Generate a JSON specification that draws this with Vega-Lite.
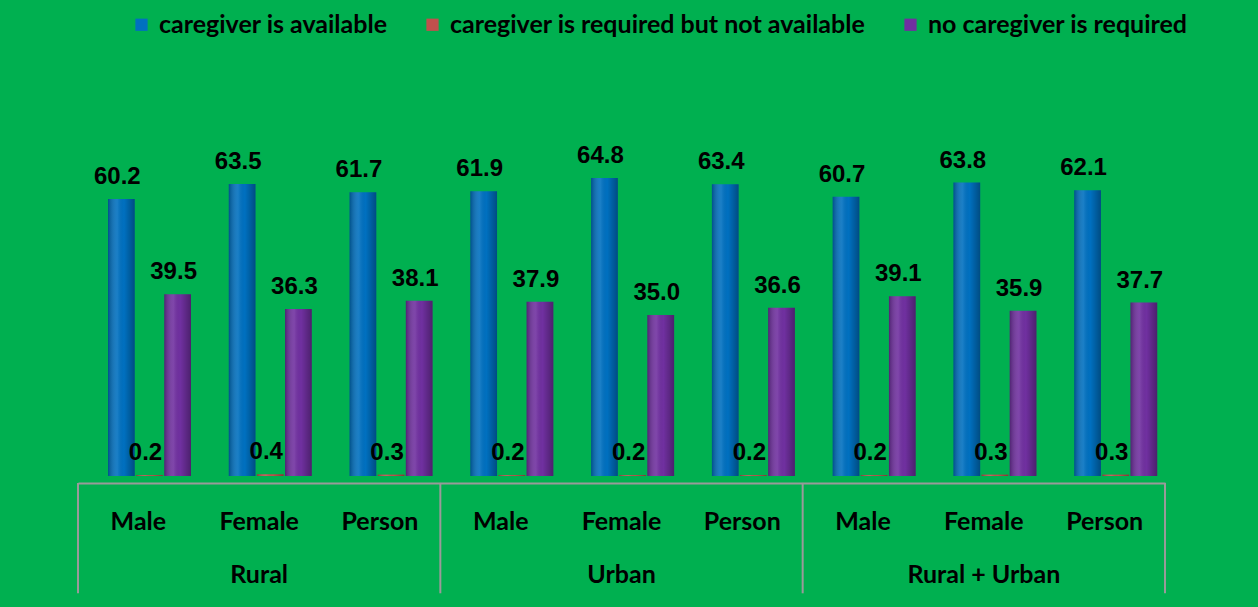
{
  "$schema": "https://vega.github.io/schema/vega-lite/v6.json",
  "autosize": {"type": "none"},
  "width": 1087,
  "height": 414,
  "padding": {"left": 78, "top": 62, "right": 93, "bottom": 131},
  "background": "#00B050",
  "config": {"view": {"stroke": null}},
  "datasets": {
    "bars": [
      {"cat": "Rural|Male", "series": "caregiver is available", "value": 60.2},
      {"cat": "Rural|Male", "series": "caregiver is required but not available", "value": 0.2},
      {"cat": "Rural|Male", "series": "no caregiver is required", "value": 39.5},
      {"cat": "Rural|Female", "series": "caregiver is available", "value": 63.5},
      {"cat": "Rural|Female", "series": "caregiver is required but not available", "value": 0.4},
      {"cat": "Rural|Female", "series": "no caregiver is required", "value": 36.3},
      {"cat": "Rural|Person", "series": "caregiver is available", "value": 61.7},
      {"cat": "Rural|Person", "series": "caregiver is required but not available", "value": 0.3},
      {"cat": "Rural|Person", "series": "no caregiver is required", "value": 38.1},
      {"cat": "Urban|Male", "series": "caregiver is available", "value": 61.9},
      {"cat": "Urban|Male", "series": "caregiver is required but not available", "value": 0.2},
      {"cat": "Urban|Male", "series": "no caregiver is required", "value": 37.9},
      {"cat": "Urban|Female", "series": "caregiver is available", "value": 64.8},
      {"cat": "Urban|Female", "series": "caregiver is required but not available", "value": 0.2},
      {"cat": "Urban|Female", "series": "no caregiver is required", "value": 35.0},
      {"cat": "Urban|Person", "series": "caregiver is available", "value": 63.4},
      {"cat": "Urban|Person", "series": "caregiver is required but not available", "value": 0.2},
      {"cat": "Urban|Person", "series": "no caregiver is required", "value": 36.6},
      {"cat": "Rural + Urban|Male", "series": "caregiver is available", "value": 60.7},
      {"cat": "Rural + Urban|Male", "series": "caregiver is required but not available", "value": 0.2},
      {"cat": "Rural + Urban|Male", "series": "no caregiver is required", "value": 39.1},
      {"cat": "Rural + Urban|Female", "series": "caregiver is available", "value": 63.8},
      {"cat": "Rural + Urban|Female", "series": "caregiver is required but not available", "value": 0.3},
      {"cat": "Rural + Urban|Female", "series": "no caregiver is required", "value": 35.9},
      {"cat": "Rural + Urban|Person", "series": "caregiver is available", "value": 62.1},
      {"cat": "Rural + Urban|Person", "series": "caregiver is required but not available", "value": 0.3},
      {"cat": "Rural + Urban|Person", "series": "no caregiver is required", "value": 37.7}
    ],
    "regions": [
      {"cat": "Rural|Female", "region": "Rural", "start": "Rural|Male"},
      {"cat": "Urban|Female", "region": "Urban", "start": "Urban|Male"},
      {"cat": "Rural + Urban|Female", "region": "Rural + Urban", "start": "Rural + Urban|Male"}
    ]
  },
  "layer": [
    {
      "data": {"name": "bars"},
      "mark": {"type": "bar", "stroke": null},
      "encoding": {
        "x": {
          "field": "cat", "type": "nominal",
          "scale": {
            "domain": ["Rural|Male", "Rural|Female", "Rural|Person", "Urban|Male", "Urban|Female", "Urban|Person", "Rural + Urban|Male", "Rural + Urban|Female", "Rural + Urban|Person"],
            "paddingInner": 0, "paddingOuter": 0
          },
          "axis": {
            "title": null, "labelAngle": 0, "ticks": false,
            "labelExpr": "split(datum.label, '|')[1]",
            "labelFont": "Lato", "labelFontWeight": "bold", "labelFontSize": 25,
            "labelColor": "#000000", "labelPadding": 26,
            "domainColor": "#9A9A9A", "domainWidth": 2, "offset": 7
          }
        },
        "xOffset": {
          "field": "series", "type": "nominal",
          "sort": ["caregiver is available", "caregiver is required but not available", "no caregiver is required"],
          "scale": {"range": [30, 113], "paddingInner": 0.05}
        },
        "y": {"field": "value", "type": "quantitative", "scale": {"domain": [0, 90]}, "axis": null},
        "color": {
          "field": "series", "type": "nominal",
          "scale": {
            "domain": ["caregiver is available", "caregiver is required but not available", "no caregiver is required"],
            "range": ["#0070C0", "#C0504D", "#7030A0"]
          },
          "legend": {
            "title": null, "orient": "none", "direction": "horizontal",
            "legendX": 51, "legendY": -50,
            "symbolType": "square", "symbolSize": 150, "symbolStrokeWidth": 0,
            "labelFont": "Lato", "labelFontWeight": "bold", "labelFontSize": 25,
            "labelColor": "#000000", "columnPadding": 32, "labelOffset": 5, "labelLimit": 600
          }
        }
      }
    },
    {
      "data": {"name": "bars"},
      "mark": {
        "type": "bar", "stroke": null,
        "fill": {
          "gradient": "linear", "x1": 0, "x2": 1, "y1": 0, "y2": 0,
          "stops": [
            {"offset": 0, "color": "rgba(0,0,0,0.28)"},
            {"offset": 0.35, "color": "rgba(255,255,255,0.10)"},
            {"offset": 0.6, "color": "rgba(0,0,0,0)"},
            {"offset": 1, "color": "rgba(0,0,0,0.32)"}
          ]
        }
      },
      "encoding": {
        "x": {"field": "cat", "type": "nominal"},
        "xOffset": {"field": "series", "type": "nominal", "sort": ["caregiver is available", "caregiver is required but not available", "no caregiver is required"]},
        "y": {"field": "value", "type": "quantitative"}
      }
    },
    {
      "data": {"name": "bars"},
      "mark": {"type": "text", "font": "Liberation Sans", "fontWeight": "bold", "fontSize": 24, "baseline": "alphabetic", "dy": -15, "dx": -4, "color": "#000000"},
      "encoding": {
        "x": {"field": "cat", "type": "nominal"},
        "xOffset": {"field": "series", "type": "nominal", "sort": ["caregiver is available", "caregiver is required but not available", "no caregiver is required"]},
        "y": {"field": "value", "type": "quantitative"},
        "text": {"field": "value", "type": "quantitative", "format": ".1f"}
      }
    },
    {
      "data": {"name": "regions"},
      "mark": {"type": "rule", "color": "#9A9A9A", "strokeWidth": 2},
      "encoding": {
        "x": {"field": "start", "type": "nominal", "bandPosition": 0},
        "y": {"datum": -1.5},
        "y2": {"datum": -25.5}
      }
    },
    {
      "data": {"values": [{}]},
      "mark": {"type": "rule", "color": "#9A9A9A", "strokeWidth": 2},
      "encoding": {
        "x": {"datum": "Rural + Urban|Person", "type": "nominal", "bandPosition": 1},
        "y": {"datum": -1.5},
        "y2": {"datum": -25.5}
      }
    },
    {
      "data": {"name": "regions"},
      "mark": {"type": "text", "font": "Lato", "fontWeight": "bold", "fontSize": 25, "baseline": "middle", "color": "#000000"},
      "encoding": {
        "x": {"field": "cat", "type": "nominal"},
        "y": {"datum": -21.5},
        "text": {"field": "region", "type": "nominal"}
      }
    }
  ]
}
